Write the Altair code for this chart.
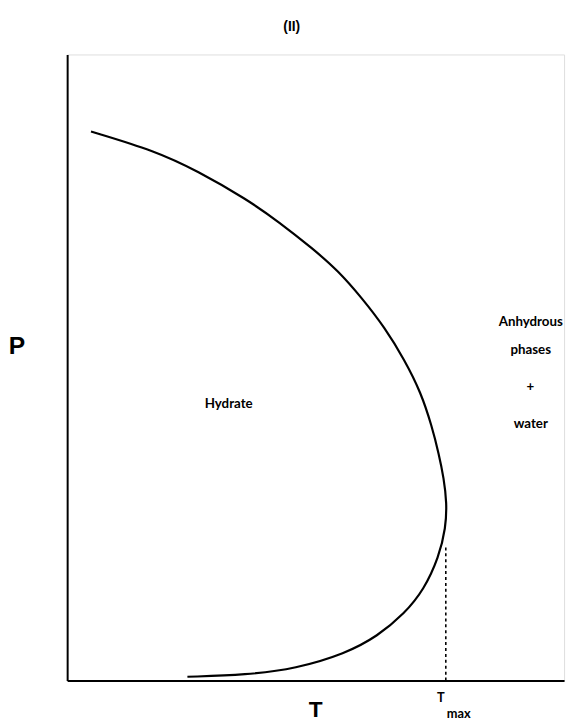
import altair as alt
import pandas as pd

# Hydrate stability curve (arbitrary T, P units 0-100)
curve_T = [4.8, 17.7, 26.2, 36.1, 42.7, 49.4, 54.6, 59.3, 63.9, 67.9, 71.2, 73.4,
           74.8, 75.8, 76.4, 76.2, 74.8, 71.8, 67.9, 62.5, 56.0, 46.0, 36.1, 24.2]
curve_P = [87.7, 84.6, 81.4, 76.9, 73.2, 69.0, 65.4, 61.1, 56.4, 51.2, 46.0, 40.6,
           36.2, 32.3, 28.4, 24.4, 19.7, 14.5, 10.7, 7.1, 4.3, 1.9, 0.9, 0.6]

tmax_T = [76.2, 76.2]
tmax_P = [0.0, 21.7]

# title and axis letters
head_text = ["(II)", "P", "T"]
head_T = [45.2, -10.1, 50.0]
head_P = [104.3, 53.4, -4.8]
head_size = [14, 25, 23]

# annotations inside/around the plot
note_text = ["T", "max", "Hydrate", "Anhydrous", "phases", "+", "water"]
note_T = [75.2, 78.8, 32.5, 93.3, 93.3, 93.2, 93.3]
note_P = [-2.8, -5.4, 44.1, 57.2, 52.8, 46.9, 40.9]
note_size = [13, 13, 13.5, 13.5, 13.5, 13.5, 13.5]

curve = pd.DataFrame({"T": curve_T, "P": curve_P, "o": range(len(curve_T))})
tmax = pd.DataFrame({"T": tmax_T, "P": tmax_P})
heads = pd.DataFrame({"text": head_text, "T": head_T, "P": head_P, "size": head_size})
notes = pd.DataFrame({"text": note_text, "T": note_T, "P": note_P, "size": note_size})

xs = alt.Scale(domain=[0, 100], nice=False, zero=False)
ys = alt.Scale(domain=[0, 100], nice=False, zero=False)
ax = alt.Axis(labels=False, ticks=False, grid=False, title=None,
              domainColor="black", domainWidth=2)

line = alt.Chart(curve).mark_line(color="black", strokeWidth=2.2,
                                   interpolate="basis").encode(
    x=alt.X("T:Q", scale=xs, axis=ax),
    y=alt.Y("P:Q", scale=ys, axis=ax),
    order="o:Q",
)

dotted = alt.Chart(tmax).mark_line(color="black", strokeWidth=1.6,
                                    strokeDash=[3, 3]).encode(
    x=alt.X("T:Q", scale=xs),
    y=alt.Y("P:Q", scale=ys),
)

head_layer = alt.Chart(heads).mark_text(color="black", fontWeight="bold",
                                         font="Liberation Sans",
                                         align="center", baseline="middle").encode(
    x=alt.X("T:Q", scale=xs),
    y=alt.Y("P:Q", scale=ys),
    text="text:N",
    size=alt.Size("size:Q", scale=None, legend=None),
)

note_layer = alt.Chart(notes).mark_text(color="black", fontWeight="bold",
                                         font="Lato",
                                         align="center", baseline="middle").encode(
    x=alt.X("T:Q", scale=xs),
    y=alt.Y("P:Q", scale=ys),
    text="text:N",
    size=alt.Size("size:Q", scale=None, legend=None),
)

chart = alt.layer(line, dotted, head_layer, note_layer).properties(
    width=504, height=635,
    autosize=alt.AutoSizeParams(type="none"),
    padding={"left": 60, "top": 42, "right": 5, "bottom": 43},
).configure_view(stroke=None).configure(background="white")

chart.save("out.html", embed_options={"renderer": "svg", "actions": False})
